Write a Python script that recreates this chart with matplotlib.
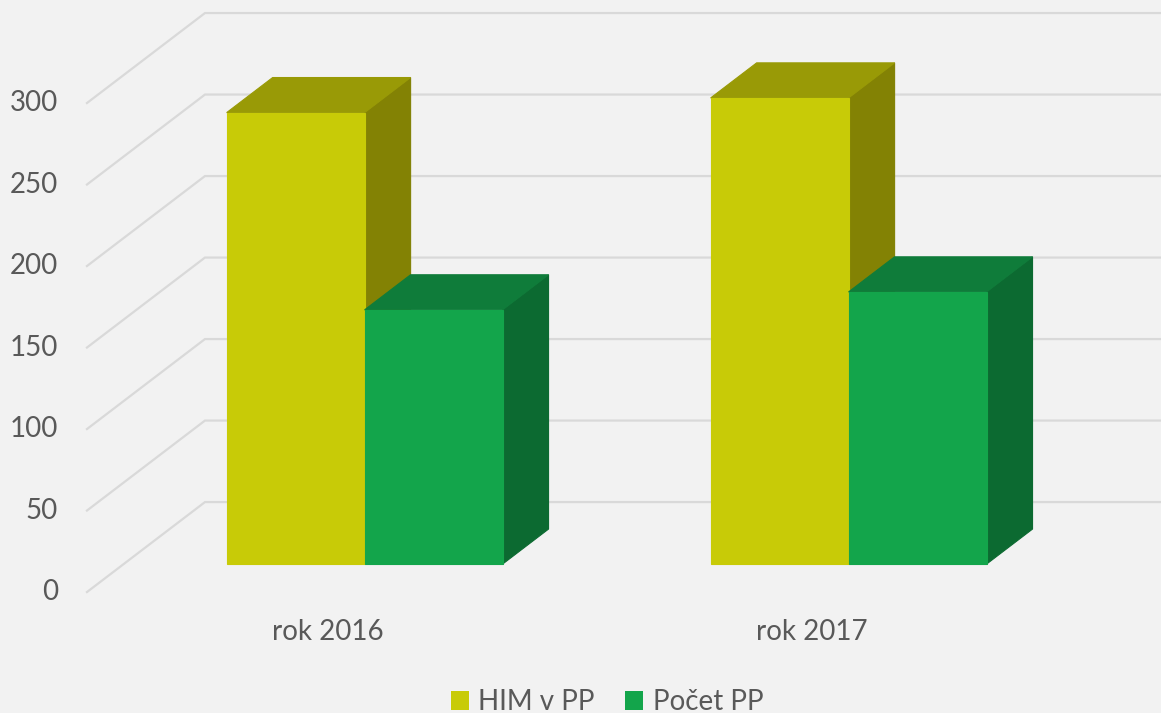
import matplotlib
matplotlib.use("Agg")
import matplotlib.pyplot as plt
from matplotlib.patches import Polygon, Patch

plt.rcParams['font.family'] = ['Lato', 'DejaVu Sans']

# data
categories = ["rok 2016", "rok 2017"]
series_names = ["HIM v PP", "Počet PP"]
him_v_pp = [277, 286]
pocet_pp = [156, 167]
y_ticks = [0, 50, 100, 150, 200, 250, 300]

# colours: front, top, side
colors = {
    "HIM v PP": ("#C8CB07", "#999A06", "#838204"),
    "Počet PP": ("#13A54B", "#0F7C3A", "#0C6A31"),
}
bg = "#F2F2F2"
grid_c = "#D9D9D9"
text_c = "#595959"

# oblique projection (depth z in 0..1)
DX = 0.2438   # category units per full depth
DY = 55.2     # value units per full depth
Z0, Z1 = 0.31, 0.70   # bar depth range
W = 0.285             # bar width in category units
WALL_X = -0.498       # left edge of floor (front)


def proj(x, v, z):
    return (x + z * DX, v + z * DY)


fig = plt.figure(figsize=(11.61, 7.13), dpi=100, facecolor=bg)
ax = fig.add_axes([0, 0, 1, 1])
ax.set_facecolor(bg)
ax.set_xlim(-0.6777, 1.7211)
ax.set_ylim(-74.2, 363.2)
ax.axis('off')

# gridlines: side wall diagonal + back wall horizontal
for t in y_ticks:
    p0 = proj(WALL_X, t, 0)
    p1 = proj(WALL_X, t, 1)
    p2 = proj(3.0, t, 1)
    ax.plot([p0[0], p1[0], p2[0]], [p0[1], p1[1], p2[1]],
            color=grid_c, lw=1.6, solid_joinstyle='miter', zorder=1)
    ax.annotate(str(t), xy=p0, xytext=(-29, 0), textcoords='offset pixels',
                ha='right', va='center', fontsize=20, color=text_c)


def draw_bar(x0, x1, h, name):
    front, top, side = colors[name]
    side_poly = [proj(x1, 0, Z0), proj(x1, 0, Z1), proj(x1, h, Z1), proj(x1, h, Z0)]
    top_poly = [proj(x0, h, Z0), proj(x1, h, Z0), proj(x1, h, Z1), proj(x0, h, Z1)]
    front_poly = [proj(x0, 0, Z0), proj(x1, 0, Z0), proj(x1, h, Z0), proj(x0, h, Z0)]
    for poly, c in ((side_poly, side), (top_poly, top), (front_poly, front)):
        ax.add_patch(Polygon(poly, closed=True, facecolor=c, edgecolor=c,
                             lw=0.8, zorder=3))


for i, cat in enumerate(categories):
    draw_bar(i - W, i, him_v_pp[i], series_names[0])
    draw_bar(i, i + W, pocet_pp[i], series_names[1])
    ax.annotate(cat, xy=(i, 0), xytext=(0, -40), textcoords='offset pixels',
                ha='center', va='center', fontsize=20, color=text_c)

handles = [Patch(facecolor=colors[n][0], edgecolor='none', label=n) for n in series_names]
fig.legend(handles=handles, loc='lower center', bbox_to_anchor=(0.523, -0.038),
           ncol=2, frameon=False, fontsize=20, labelcolor=text_c,
           handlelength=0.65, handleheight=0.65, handletextpad=0.35, columnspacing=1.1)

fig.savefig("out.png", dpi=100, facecolor=bg)
